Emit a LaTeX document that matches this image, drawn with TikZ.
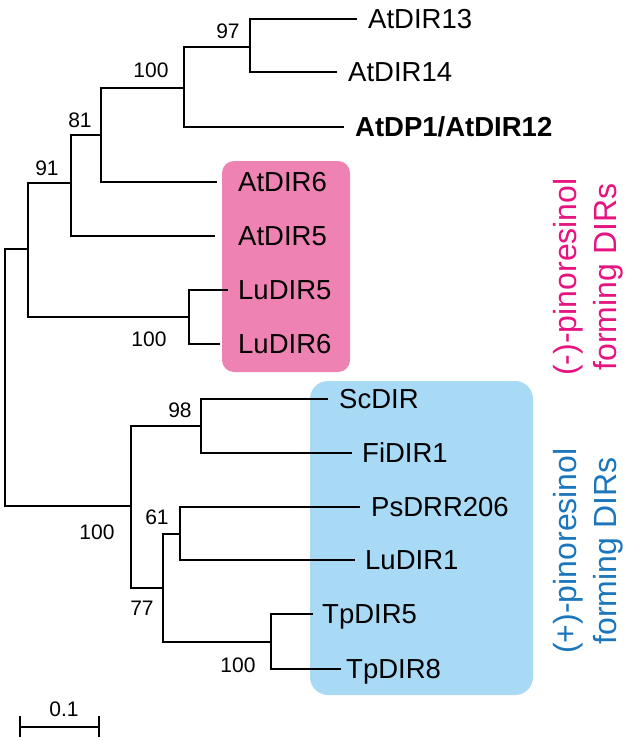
\documentclass[tikz,border=0pt]{standalone}
\usepackage{fontspec}
\setmainfont{Liberation Sans}
\definecolor{pinkbox}{RGB}{238,130,178}
\definecolor{pinktext}{RGB}{230,20,128}
\definecolor{bluebox}{RGB}{168,218,246}
\definecolor{bluetext}{RGB}{28,118,188}

\begin{document}
\begin{tikzpicture}[x=1pt,y=-1pt,
  branch/.style={line width=2.5pt},
  leaf/.style={anchor=west,inner xsep=11pt,inner ysep=0pt,text height=19.7pt,text depth=0pt,font=\fontsize{27.5}{30}\selectfont},
  boot/.style={inner sep=0pt,font=\fontsize{21}{23}\selectfont},
  group/.style={rotate=90,align=center,font=\fontsize{32}{40}\selectfont}]

\useasboundingbox (0,0) rectangle (633,741);

\fill[pinkbox,rounded corners=12pt] (222,161) rectangle (350,372);
\fill[bluebox,rounded corners=18pt] (310,381) rectangle (533,695);

\coordinate (root) at (5,377);
\coordinate (nUp) at (28,249);
\coordinate (n91) at (71,183);
\coordinate (n81) at (101,135);
\coordinate (n100u) at (184,88);
\coordinate (n97) at (250,47);
\coordinate (nLu) at (189,317);
\coordinate (nLo) at (131,506);
\coordinate (n98) at (201,426);
\coordinate (n77) at (163,588);
\coordinate (n61) at (180,534);
\coordinate (nTp) at (271,642);

\node[leaf] (t13) at (357,19) {AtDIR13};
\node[leaf] (t14) at (337,72) {AtDIR14};
\node[leaf,font=\fontsize{27.5}{30}\selectfont\bfseries] (t12) at (344,127) {AtDP1/AtDIR12};
\node[leaf,inner xsep=21pt] (t6) at (217,182) {AtDIR6};
\node[leaf,inner xsep=23pt] (t5) at (215,236) {AtDIR5};
\node[leaf,inner xsep=10pt] (lu5) at (228,290) {LuDIR5};
\node[leaf,inner xsep=18pt] (lu6) at (220,344) {LuDIR6};
\node[leaf] (sc) at (328,399) {ScDIR};
\node[leaf,inner xsep=10pt] (fi) at (352,453) {FiDIR1};
\node[leaf,inner xsep=11pt] (ps) at (360,507) {PsDRR206};
\node[leaf,inner xsep=10pt] (lu1) at (355,560) {LuDIR1};
\node[leaf,inner xsep=9pt] (tp5) at (313,614) {TpDIR5};
\node[leaf,inner xsep=5pt] (tp8) at (341,669) {TpDIR8};

\foreach \a/\b in {root/nUp,root/nLo,nUp/n91,nUp/nLu,n91/n81,n91/t5,n81/n100u,n81/t6,
  n100u/n97,n100u/t12,n97/t13,n97/t14,nLu/lu5,nLu/lu6,nLo/n98,nLo/n77,n98/sc,n98/fi,
  n77/n61,n77/nTp,n61/ps,n61/lu1,nTp/tp5,nTp/tp8}
  \draw[branch] (\a) |- (\b);

\node[boot] (b97) at (228,31) {97};
\node[boot] (b100u) at (151,70) {100};
\node[boot] (b81) at (80,120) {81};
\node[boot] (b91) at (47,168) {91};
\node[boot] (b100lu) at (149,339) {100};
\node[boot] (b98) at (180,410) {98};
\node[boot] (b100lo) at (97,532) {100};
\node[boot] (b61) at (157,517) {61};
\node[boot] (b77) at (142,608) {77};
\node[boot] (b100tp) at (238,665) {100};

\node[group,text=pinktext] (gneg) at (588,277) {(-)-pinoresinol\\forming DIRs};
\node[group,text=bluetext] (gpos) at (588,551) {(+)-pinoresinol\\forming DIRs};

\coordinate (sbl) at (20,727);
\coordinate (sbr) at (99,727);
\draw[branch,line width=2.8pt] (sbl) -- (sbr);
\draw[branch,line width=2.8pt] (20,716) -- (20,737);
\draw[branch,line width=2.8pt] (99,716) -- (99,737);
\node[boot] (scale) at (64,709) {0.1};
\end{tikzpicture}
\end{document}
